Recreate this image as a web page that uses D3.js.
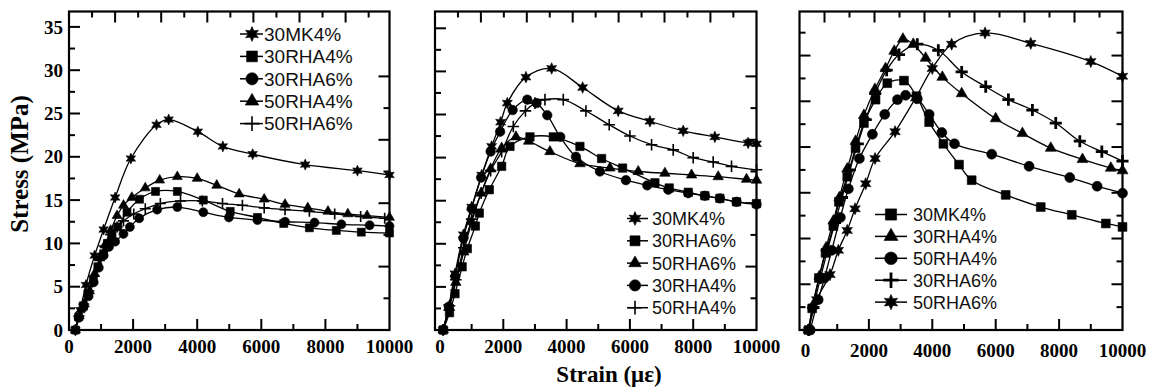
<!DOCTYPE html>
<html><head><meta charset="utf-8">
<script src="https://cdn.jsdelivr.net/npm/d3@7"></script>
<style>body{margin:0;background:#fff}svg{display:block}</style>
</head><body>
<svg id="c" width="1153" height="388"></svg>
<script>
// ---------------- DATA ----------------
const xTickValues = [0, 2000, 4000, 6000, 8000, 10000];
const yTickValues = [0, 5, 10, 15, 20, 25, 30, 35];
const yLabel = "Stress (MPa)";
const xLabel = "Strain (με)";

// Panel 1
const p1Names = ["30MK4%", "30RHA4%", "30RHA6%", "50RHA4%", "50RHA6%"];
const p1Symbols = ["star", "square", "circle", "triangle", "plus"];
const p1_30MK4 = [[200,0],[350,2.3],[530,5.2],[800,8.6],[1080,11.6],[1440,15.3],[1930,19.8],[2730,23.7],[3110,24.3],[4020,22.9],[4800,21.2],[5730,20.3],[7370,19.1],[9000,18.4],[10000,17.9]];
const p1_30RHA4 = [[200,0],[300,1.5],[450,2.8],[600,4.2],[760,5.8],[900,7.3],[1080,8.8],[1200,10.0],[1340,10.9],[1520,11.9],[1810,13.6],[2200,15.1],[2700,16.0],[3380,16.0],[4190,15.0],[5030,13.7],[5880,13.0],[6700,12.3],[7500,11.8],[8340,11.5],[9120,11.3],[10000,11.2]];
const p1_30RHA6 = [[200,0],[300,1.4],[450,2.6],[610,3.9],[770,5.5],[930,7.2],[1080,8.6],[1250,9.6],[1440,10.2],[1700,11.1],[1900,11.9],[2190,12.9],[2750,13.9],[3380,14.2],[4190,13.6],[4990,13.0],[5880,12.7],[6740,12.5],[7660,12.4],[8500,12.2],[9380,12.1],[10000,12.0]];
const p1_50RHA4 = [[200,0],[320,1.6],[480,3.0],[640,4.5],[800,6.5],[960,8.3],[1120,9.8],[1300,11.5],[1500,13.2],[1700,14.4],[1960,15.3],[2380,16.4],[2830,17.3],[3380,17.7],[4000,17.5],[4610,16.7],[5310,15.7],[6090,15.1],[6740,14.5],[7450,14.1],[8080,13.7],[8700,13.4],[9300,13.2],[10000,13.0]];
const p1_50RHA6 = [[200,0],[310,1.6],[460,3.0],[620,4.5],[780,6.2],[950,8.2],[1100,9.7],[1300,11.0],[1500,11.9],[1700,12.6],[2020,13.4],[2380,14.0],[2850,14.6],[3480,14.9],[4160,14.9],[4790,14.6],[5410,14.4],[6090,14.1],[6740,13.9],[7500,13.7],[8290,13.4],[9100,13.1],[9850,12.9]];

// Panel 2
const p2Names = ["30MK4%", "30RHA6%", "50RHA6%", "30RHA4%", "50RHA4%"];
const p2Symbols = ["star", "square", "triangle", "circle", "plus"];
const p2_30MK4 = [[100,0],[270,2.6],[474,6.5],[737,11.0],[1000,14.2],[1317,17.9],[1632,21.2],[1916,24.0],[2126,26.2],[2716,29.2],[3527,30.2],[4506,28.0],[5631,25.3],[6632,24.1],[7684,23.0],[8684,22.3],[9736,21.6],[10000,21.5]];
const p2_30RHA6 = [[100,0],[300,2.0],[474,4.2],[700,7.3],[863,9.4],[1116,12.0],[1242,13.5],[1558,16.2],[1948,18.9],[2211,21.2],[2842,22.3],[3579,22.3],[4421,21.2],[5106,19.8],[5769,18.7],[6790,17.0],[7242,16.4],[7843,15.9],[8369,15.5],[8843,15.2],[9369,14.8],[10000,14.6]];
const p2_50RHA6 = [[100,0],[300,2.6],[500,5.5],[750,9.0],[1000,12.5],[1300,15.8],[1600,18.6],[1948,21.0],[2400,22.3],[2800,21.8],[3474,20.6],[4421,19.2],[5369,18.7],[6263,18.3],[7106,18.1],[7948,17.9],[8790,17.7],[9685,17.4],[10000,17.3]];
const p2_30RHA4 = [[100,0],[280,2.7],[480,6.2],[740,10.6],[1000,14.0],[1300,17.6],[1600,20.6],[1900,22.9],[2296,25.4],[2757,26.6],[3050,26.2],[3389,24.8],[3800,22.3],[4295,20.0],[5053,18.3],[5874,17.3],[6548,16.7],[7211,16.2],[7843,15.8],[8369,15.5],[8843,15.2],[9369,14.8],[10000,14.5]];
const p2_50RHA4 = [[100,0],[300,2.8],[500,5.8],[750,9.5],[1000,12.8],[1300,15.8],[1600,18.4],[1948,20.6],[2316,23.5],[2700,25.3],[3000,26.2],[3316,26.6],[3895,26.6],[4611,25.3],[5347,23.7],[6000,22.4],[6685,21.4],[7369,20.8],[8000,19.9],[8632,19.4],[9211,18.9],[10000,18.5]];

// Panel 3
const p3Names = ["30MK4%", "30RHA4%", "50RHA4%", "30RHA6%", "50RHA6%"];
const p3Symbols = ["square", "triangle", "circle", "plusBold", "star"];
const p3_30MK4 = [[100,0],[211,2.5],[421,6.0],[632,8.9],[879,12.0],[1053,14.8],[1316,17.7],[1579,21.0],[1843,23.9],[2210,26.6],[2580,28.5],[3106,28.8],[3500,27.0],[3900,24.0],[4350,21.5],[4843,19.1],[5242,17.3],[6316,15.6],[7421,14.2],[8400,13.3],[9474,12.3],[10000,11.9]];
const p3_30RHA4 = [[100,0],[230,2.8],[440,6.2],[650,9.5],[880,12.6],[1070,15.3],[1316,18.6],[1579,21.8],[1843,24.8],[2190,27.8],[2526,30.2],[2800,32.2],[3074,33.6],[3400,33.0],[3790,31.4],[4317,29.2],[4927,27.3],[6000,24.4],[6843,22.7],[7737,21.0],[8738,19.7],[9632,18.7],[10000,18.4]];
const p3_50RHA4 = [[150,0],[400,3.5],[600,6.0],[827,9.2],[1100,13.0],[1352,16.3],[1700,19.8],[2110,22.6],[2500,24.9],[2900,26.6],[3158,27.1],[3527,26.7],[3900,24.9],[4300,22.8],[4700,21.5],[5874,20.3],[7053,18.9],[8337,17.6],[9200,16.6],[10000,15.8]];
const p3_30RHA6 = [[100,0],[250,2.6],[470,6.0],[700,9.3],[930,12.4],[1150,15.3],[1400,18.5],[1650,21.5],[1900,24.3],[2200,27.3],[2560,30.0],[2950,31.8],[3527,33.0],[4190,32.3],[4927,29.8],[5685,28.1],[6401,26.6],[7158,25.4],[7895,23.9],[8653,21.8],[9348,20.6],[10000,19.5]];
const p3_50RHA6 = [[100,0],[354,3.5],[774,6.4],[1036,9.2],[1316,11.5],[1563,14.0],[1900,16.9],[2195,19.8],[2826,22.9],[3474,26.8],[4000,30.2],[4611,33.0],[5664,34.3],[7106,33.1],[9000,31.0],[10000,29.3]];

// ---------------- LAYOUT ----------------
const svg = d3.select("#c");
const yTop = 11.5, yBottom = 330;
const y = d3.scaleLinear().domain([0, (yBottom - yTop) / 8.66]).range([yBottom, yTop]);

const panels = [
  { left: 69, right: 389.5, zeroX: 69, series: [p1_30MK4, p1_30RHA4, p1_30RHA6, p1_50RHA4, p1_50RHA6],
    names: p1Names, symbols: p1Symbols, showY: true, xLabY: 353,
    topStep: 23.05, topN: 13, topMajorOdd: false,
    leftStep: 21.65, leftN: 14, rightStep: 31.7, rightN: 8, rightMajorOdd: false,
    legend: { lineX0: 240, lineX1: 263, mx: 252, tx: 264, y0: 34, dy: 22.4, fs: 19, msz: 1.35 }, msz: 1 },
  { left: 435, right: 756.5, zeroX: 440, series: [p2_30MK4, p2_30RHA6, p2_50RHA6, p2_30RHA4, p2_50RHA4],
    names: p2Names, symbols: p2Symbols, showY: false, xLabY: 353,
    topStep: 22.95, topN: 13, topMajorOdd: false,
    leftStep: 21.55, leftN: 14, rightStep: 31.7, rightN: 8, rightMajorOdd: false,
    legend: { lineX0: 627, lineX1: 648, mx: 635, tx: 652, y0: 218.5, dy: 22.3, fs: 18, msz: 1.25 }, msz: 1.05 },
  { left: 799.5, right: 1122.5, zeroX: 805.5, series: [p3_30MK4, p3_30RHA4, p3_50RHA4, p3_30RHA6, p3_50RHA6],
    names: p3Names, symbols: p3Symbols, showY: false, xLabY: 357,
    topStep: 25, topN: 12, topMajorOdd: true,
    leftStep: 22.87, leftN: 13, rightStep: 22.87, rightN: 13, rightMajorOdd: false,
    legend: { lineX0: 875, lineX1: 907, mx: 891, tx: 913, y0: 214.5, dy: 21.9, fs: 18, msz: 1.4 }, msz: 1.1 }
];

function symPath(type, s) {
  if (type === "square") { const h = 4 * s; return `M${-h},${-h}H${h}V${h}H${-h}Z`; }
  if (type === "circle") { return d3.symbol(d3.symbolCircle, 64 * s * s)(); }
  if (type === "triangle") {
    const a = 10 * s, h = a * Math.sqrt(3) / 2;
    return `M0,${-h * 2 / 3}L${a / 2},${h / 3}L${-a / 2},${h / 3}Z`;
  }
  if (type === "star") {
    const R = 5.5 * s, r = R * 0.5, pts = [];
    for (let i = 0; i < 12; i++) {
      const a = Math.PI / 6 * i - Math.PI / 2, rr = i % 2 ? r : R;
      pts.push([rr * Math.cos(a), rr * Math.sin(a)]);
    }
    return "M" + pts.map(p => p[0].toFixed(2) + "," + p[1].toFixed(2)).join("L") + "Z";
  }
  if (type === "plus" || type === "plusBold") { const h = 5.5 * s; return `M${-h},0H${h}M0,${-h}V${h}`; }
}
function drawSym(g, type, cx, cy, s) {
  const p = g.append("path").attr("d", symPath(type, s)).attr("transform", `translate(${cx},${cy})`);
  if (type === "plus") p.attr("fill", "none").attr("stroke", "#000").attr("stroke-width", 1.6);
  else if (type === "plusBold") p.attr("fill", "none").attr("stroke", "#000").attr("stroke-width", 2.8);
  else p.attr("fill", "#000").attr("stroke", "#000").attr("stroke-width", 0.6);
}

const tickFont = "'Liberation Serif','Times New Roman',serif";
const legendFont = "'Liberation Sans',Arial,sans-serif";
const LONG = 11, SHORT = 6;

panels.forEach(P => {
  const pxPerUnit = (P.right - P.zeroX) / 10000;
  const x = d3.scaleLinear().domain([-(P.zeroX - P.left) / pxPerUnit, 10000]).range([P.left, P.right]);
  const g = svg.append("g");

  // frame
  g.append("rect").attr("x", P.left).attr("y", yTop).attr("width", P.right - P.left).attr("height", yBottom - yTop)
    .attr("fill", "none").attr("stroke", "#000").attr("stroke-width", 2.2);

  const tk = g.append("g").attr("stroke", "#000").attr("stroke-width", 2);
  d3.range(1000, 10000, 1000).forEach(v => {
    const len = v % 2000 === 0 ? LONG : SHORT;
    tk.append("line").attr("x1", x(v)).attr("x2", x(v)).attr("y1", yBottom).attr("y2", yBottom - len);
  });
  d3.range(1, P.topN + 1).forEach(k => {
    const major = P.topMajorOdd ? k % 2 === 1 : k % 2 === 0;
    const xx = P.left + k * P.topStep;
    tk.append("line").attr("x1", xx).attr("x2", xx).attr("y1", yTop).attr("y2", yTop + (major ? LONG : SHORT));
  });
  d3.range(1, P.leftN + 1).forEach(k => {
    const yy = yBottom - k * P.leftStep;
    if (yy <= yTop + 2) return;
    tk.append("line").attr("x1", P.left).attr("x2", P.left + (k % 2 === 0 ? LONG : SHORT)).attr("y1", yy).attr("y2", yy);
  });
  d3.range(1, P.rightN + 1).forEach(k => {
    const yy = yBottom - k * P.rightStep;
    if (yy <= yTop + 2) return;
    const major = P.rightMajorOdd ? k % 2 === 1 : k % 2 === 0;
    tk.append("line").attr("x1", P.right).attr("x2", P.right - (major ? LONG : SHORT)).attr("y1", yy).attr("y2", yy);
  });

  g.selectAll(".xl").data(xTickValues).enter().append("text")
    .attr("x", d => x(d)).attr("y", P.xLabY).attr("text-anchor", "middle")
    .attr("font-family", tickFont).attr("font-weight", "bold").attr("font-size", 19).text(d => d);
  if (P.showY) {
    g.selectAll(".yl").data(yTickValues).enter().append("text")
      .attr("x", P.left - 6).attr("y", d => y(d)).attr("dy", "0.35em").attr("text-anchor", "end")
      .attr("font-family", tickFont).attr("font-weight", "bold").attr("font-size", 19).text(d => d);
  }

  const line = d3.line().x(d => x(d[0])).y(d => y(d[1])).curve(d3.curveCatmullRom.alpha(0.5));
  P.series.forEach((data, i) => {
    g.append("path").attr("d", line(data)).attr("fill", "none").attr("stroke", "#000").attr("stroke-width", 1.3);
    data.forEach(d => drawSym(g, P.symbols[i], x(d[0]), y(d[1]), P.msz));
  });

  const L = P.legend;
  P.names.forEach((n, i) => {
    const yy = L.y0 + i * L.dy;
    g.append("line").attr("x1", L.lineX0).attr("x2", L.lineX1).attr("y1", yy).attr("y2", yy)
      .attr("stroke", "#000").attr("stroke-width", 1.5);
    drawSym(g, P.symbols[i], L.mx, yy, L.msz);
    g.append("text").attr("x", L.tx).attr("y", yy).attr("dy", "0.36em")
      .attr("font-family", legendFont).attr("font-size", L.fs).attr("fill", "#111").text(n);
  });
});

svg.append("text").attr("transform", "translate(28,164) rotate(-90)").attr("text-anchor", "middle")
  .attr("font-family", tickFont).attr("font-weight", "bold").attr("font-size", 25).text(yLabel);
svg.append("text").attr("x", 609).attr("y", 382).attr("text-anchor", "middle")
  .attr("font-family", tickFont).attr("font-weight", "bold").attr("font-size", 23).text(xLabel);
</script>
</body></html>
